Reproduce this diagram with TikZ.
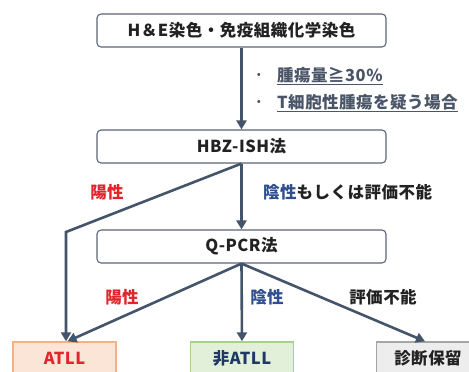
\documentclass[tikz,border=0pt]{standalone}
\usepackage{fontspec}
\setmainfont{Noto Sans CJK JP}[LetterSpace=3]
\usetikzlibrary{arrows.meta}
\definecolor{arrowc}{HTML}{44546A}
\definecolor{boxline}{HTML}{5B6679}
\definecolor{redtxt}{HTML}{E0262B}
\definecolor{bluetxt}{HTML}{2F4F8F}
\definecolor{navytxt}{HTML}{1F3864}
\definecolor{blacktxt}{HTML}{222222}
\definecolor{bullettxt}{HTML}{4A5568}
\definecolor{orangefill}{HTML}{FBE5D6}
\definecolor{orangeline}{HTML}{F4B183}
\definecolor{greenfill}{HTML}{E2F0D9}
\definecolor{greenline}{HTML}{A9D18E}
\definecolor{grayfill}{HTML}{EDEDED}
\definecolor{grayline}{HTML}{A5A5A5}
\tikzset{
  stepbox/.style={draw=boxline, line width=1.1pt, rounded corners=4pt, fill=white,
    minimum width=289pt, minimum height=33pt, inner sep=0pt,
    font=\fontsize{16.5}{19}\selectfont\bfseries, text=blacktxt},
  resbox/.style={line width=1.4pt, minimum width=103pt, minimum height=32pt, inner sep=0pt,
    font=\fontsize{16.5}{19}\selectfont\bfseries},
  lbl/.style={font=\fontsize{16.5}{19}\selectfont\bfseries, inner sep=0pt},
  bul/.style={font=\fontsize{16.5}{19}\selectfont\bfseries, text=bullettxt, inner sep=0pt},
  flow/.style={draw=arrowc, line width=2.6pt, -{Triangle[length=9pt,width=10pt]}},
}
\begin{document}
\begin{tikzpicture}[x=1pt,y=-1pt]
\useasboundingbox (0,0) rectangle (469,372);
\clip (0,0) rectangle (469,372);
\fill[white] (0,0) rectangle (469,372);

\node[stepbox] (he) at (241.5,30.5) {H＆E染色・免疫組織化学染色};
\node[stepbox] (hbz) at (241.5,146.5) {HBZ-ISH法};
\node[stepbox] (qpcr) at (241.5,246.5) {Q-PCR法};

\node[resbox, draw=orangeline, fill=orangefill, text=redtxt] (atll) at (64.5,358) {ATLL};
\node[resbox, draw=greenline, fill=greenfill, text=navytxt] (natll) at (242,358) {非ATLL};
\node[resbox, draw=grayline, fill=grayfill, text=blacktxt] (hold) at (428,358) {診断保留};

\node[bul, font=\fontsize{12}{14}\selectfont] (b1) at (259,76) {•};
\node[bul, anchor=west] (t1) at (277,76) {\underline{腫瘍量≧30\%}};
\node[bul, font=\fontsize{12}{14}\selectfont] (b2) at (259,103) {•};
\node[bul, anchor=west] (t2) at (277,103) {\underline{T細胞性腫瘍を疑う場合}};

\node[lbl, text=redtxt] (l1) at (107,192) {陽性};
\node[lbl, anchor=west, text=blacktxt] (l2) at (263,192) {\textcolor{bluetxt}{陰性}もしくは評価不能};
\node[lbl, text=redtxt] (l3) at (122,297) {陽性};
\node[lbl, text=bluetxt] (l4) at (267,297) {陰性};
\node[lbl, text=blacktxt] (l5) at (383,297) {評価不能};

\coordinate (corner) at (66,232);
\draw[flow] (he.south) -- (hbz.north);
\draw[flow] (hbz.south) -- (qpcr.north);
\draw[flow] (hbz.south) -- (corner) -- (corner |- atll.north);
\draw[flow] (qpcr.south) -- ([xshift=3pt]atll.north);
\draw[flow] (qpcr.south) -- (natll.north);
\draw[flow] (qpcr.south) -- ([xshift=-3pt]hold.north);
\end{tikzpicture}
\end{document}
